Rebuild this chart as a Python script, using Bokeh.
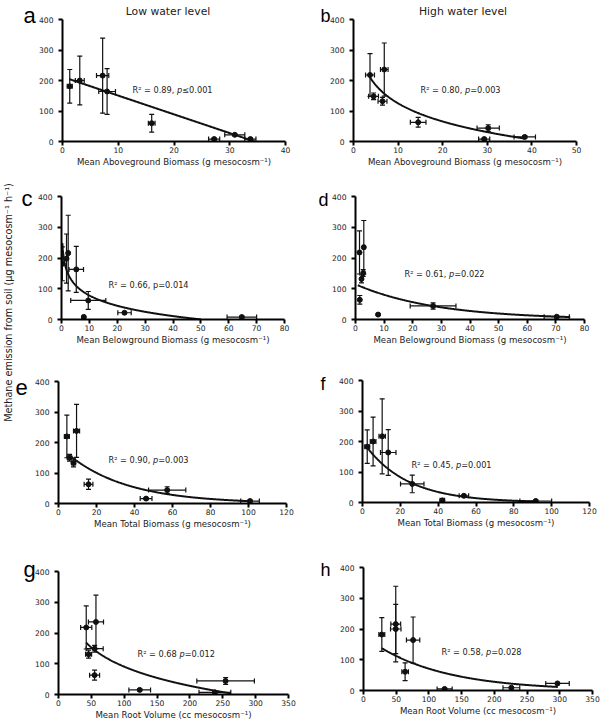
import numpy as np
from bokeh.plotting import figure
from bokeh.models import (Range1d, FixedTicker, Whisker, TeeHead, ColumnDataSource, Label,
                          GridBox, Plot)
from bokeh.layouts import row, column
from bokeh.embed import file_html
from bokeh.resources import INLINE

FONT = "DejaVu Sans"
LETTER_FONT = "Liberation Sans"
HAS_FRAME_ALIGN = "frame_align" in Plot.properties()

# ------------------------------------------------------------------ data
y_ticks = [0, 100, 200, 300, 400]
y_label = "Methane emission from soil (µg mesocosm⁻¹ h⁻¹)"
col_titles = ["Low water level", "High water level"]

# a: low water, aboveground biomass
a_x = [1.3, 3.1, 7.2, 8.0, 16.0, 27.2, 30.9, 33.7]
a_xerr = [0.45, 0.8, 1.1, 1.5, 0.6, 1.0, 1.8, 1.0]
a_y = [181, 200, 216, 164, 60, 8, 22, 8]
a_yerr = [55, 80, 123, 75, 29, 3, 3, 3]
a_xticks = [0, 10, 20, 30, 40]

# b: high water, aboveground biomass
b_x = [3.7, 4.5, 6.9, 6.5, 14.5, 30.2, 29.3, 38.4]
b_xerr = [1.0, 1.1, 0.85, 1.0, 1.75, 2.5, 1.25, 2.4]
b_y = [218, 148, 236, 132, 63, 44, 8, 15]
b_yerr = [70, 11, 87, 13, 16, 11, 3, 4]
b_xticks = [0, 10, 20, 30, 40, 50]

# c: low water, belowground biomass
c_x = [0.3, 1.8, 2.4, 5.3, 9.6, 64.7, 22.6, 8.0]
c_xerr = [0.2, 0.3, 0.3, 2.6, 6.3, 5.3, 2.4, 0.3]
c_y = [181, 198, 216, 163, 62, 8, 22, 8]
c_yerr = [55, 80, 123, 75, 29, 3, 3, 3]
c_xticks = [0, 10, 20, 30, 40, 50, 60, 70, 80]

# d: high water, belowground biomass
d_x = [1.4, 2.7, 2.9, 2.1, 1.5, 27.1, 70.3, 7.9]
d_xerr = [0.2, 0.3, 0.3, 0.3, 0.2, 8.0, 4.4, 0.3]
d_y = [218, 151, 235, 132, 64, 44, 9, 16]
d_yerr = [70, 11, 87, 13, 14, 10, 3, 3]
d_xticks = [0, 10, 20, 30, 40, 50, 60, 70, 80]

# e: total biomass
e_x = [4.4, 5.8, 9.5, 7.9, 15.8, 57.2, 100.8, 46.1]
e_xerr = [1.3, 1.2, 1.6, 1.1, 2.3, 9.8, 4.9, 3.1]
e_y = [220, 150, 238, 133, 63, 44, 8, 16]
e_yerr = [70, 11, 87, 13, 17, 11, 3, 3]
e_xticks = [0, 20, 40, 60, 80, 100, 120]

# f: total biomass
f_x = [2.5, 5.6, 10.4, 13.6, 26.3, 91.6, 53.6, 42.2]
f_xerr = [1.3, 1.5, 1.7, 4.1, 6.2, 8.4, 2.5, 1.2]
f_y = [183, 200, 217, 164, 61, 5, 22, 7]
f_yerr = [55, 80, 123, 75, 29, 3, 3, 3]
f_xticks = [0, 20, 40, 60, 80, 100, 120]

# g: root volume
g_x = [42.2, 55.0, 57.0, 45.8, 54.9, 254.3, 238.0, 123.6]
g_xerr = [8.5, 13.0, 11.5, 4.6, 7.6, 43.8, 24.2, 16.5]
g_y = [218, 149, 236, 131, 63, 44, 7, 15]
g_yerr = [70, 11, 87, 13, 16, 11, 3, 3]
g_xticks = [0, 50, 100, 150, 200, 250, 300, 350]

# h: root volume
h_x = [28.0, 49.3, 49.3, 75.8, 63.6, 226.0, 296.5, 124.0]
h_xerr = [4.5, 8.0, 7.5, 10.2, 5.0, 12.8, 18.0, 11.5]
h_y = [182, 200, 216, 164, 61, 9, 23, 5]
h_yerr = [55, 80, 123, 75, 29, 3, 3, 3]
h_xticks = [0, 50, 100, 150, 200, 250, 300, 350]

# fitted regressions: (kind, p0, p1, x_start, x_end)
a_fit = ("lin", 212.0, -6.15, 1.2, 34.5)
b_fit = ("log", 323.0, 85.9, 3.7, 38.4)
c_fit = ("log", 190.0, 48.5, 0.3, 50.0)
d_fit = ("exp", 114.8, 0.0355, 0.8, 75.0)
e_fit = ("exp", 190.0, 0.0318, 6.2, 100.8)
f_fit = ("exp", 201.0, 0.0441, 2.5, 91.6)
g_fit = ("log", 506.0, 90.2, 42.0, 262.0)
h_fit = ("exp", 178.0, 0.0092, 28.0, 297.0)

# statistics text: (before p, p, after p, italic p)
a_stat = ("R² = 0.89, ", "p", "≤0.001", True)
b_stat = ("R² = 0.80, ", "p", "=0.003", True)
c_stat = ("R² = 0.66, ", "p", "=0.014", False)
d_stat = ("R² = 0.61, ", "p", "=0.022", True)
e_stat = ("R² = 0.90, ", "p", "=0.003", True)
f_stat = ("R² = 0.45, ", "p", "=0.001", True)
g_stat = ("R² = 0.68 ", "p", "=0.012", True)
h_stat = ("R² = 0.58, ", "p", "=0.028", True)

x_labels = {
    "above": "Mean Aboveground Biomass (g mesocosm⁻¹)",
    "below": "Mean Belowground Biomass (g mesocosm⁻¹)",
    "total": "Mean Total Biomass (g mesocosm⁻¹)",
    "root": "Mean Root Volume (cc mesocosm⁻¹)",
}

# ------------------------------------------------------------------ helpers
CW = {"R": 0.695, "²": 0.401, " ": 0.318, "=": 0.838, ".": 0.318, ",": 0.318,
      "p": 0.635, "≤": 0.838}
for ch in "0123456789":
    CW[ch] = 0.636


def text_width(s, size):
    return sum(CW.get(ch, 0.6) for ch in s) * size


def fit_curve(fit):
    kind, p0, p1, x0, x1 = fit
    xs = np.linspace(x0, x1, 300)
    if kind == "lin":
        ys = p0 + p1 * xs
    elif kind == "log":
        ys = p0 - p1 * np.log(xs)
    else:
        ys = p0 * np.exp(-p1 * xs)
    return xs, ys


INK = "#111111"
STAT_SIZE = 8.2
W_TOTAL, H_TOTAL = 600, 722


def no_align(p):
    if HAS_FRAME_ALIGN:
        p.frame_align = False


def make_panel(x, xerr, y, yerr, xticks, xlabel, fit, width, height, borders):
    bl, br, bt, bb = borders
    p = figure(width=width, height=height, output_backend="svg", toolbar_location=None,
               x_range=Range1d(0, xticks[-1]), y_range=Range1d(0, 400),
               min_border_left=bl, min_border_right=br, min_border_top=bt,
               min_border_bottom=bb)
    no_align(p)
    p.outline_line_color = None
    p.grid.visible = False
    p.background_fill_color = "white"
    p.border_fill_color = "white"
    p.xaxis.ticker = FixedTicker(ticks=xticks)
    p.yaxis.ticker = FixedTicker(ticks=y_ticks)
    for ax in (p.xaxis[0], p.yaxis[0]):
        ax.axis_line_width = 2
        ax.axis_line_color = "black"
        ax.major_tick_line_width = 2
        ax.major_tick_line_color = "black"
        ax.major_tick_out = 4
        ax.major_tick_in = 0
        ax.minor_tick_line_color = None
        ax.major_label_text_font = FONT
        ax.major_label_text_font_size = "7.6px"
        ax.major_label_text_color = "#222222"
    p.xaxis.major_label_standoff = 1
    p.yaxis.major_label_standoff = 5
    p.xaxis.axis_label = xlabel
    p.xaxis.axis_label_text_font = FONT
    p.xaxis.axis_label_text_font_size = "8.6px"
    p.xaxis.axis_label_text_font_style = "normal"
    p.xaxis.axis_label_text_color = "#222222"
    p.xaxis.axis_label_standoff = 1

    xa = np.array(x, dtype=float)
    ya = np.array(y, dtype=float)
    xe = np.array(xerr, dtype=float)
    ye = np.array(yerr, dtype=float)
    src = ColumnDataSource(dict(x=xa, y=ya, xl=xa - xe, xu=xa + xe,
                                yl=ya - ye, yu=ya + ye))

    def head():
        return TeeHead(size=5, line_width=1.2, line_color=INK)

    p.add_layout(Whisker(source=src, base="x", lower="yl", upper="yu", dimension="height",
                         line_width=1.2, line_color=INK,
                         lower_head=head(), upper_head=head()))
    p.add_layout(Whisker(source=src, base="y", lower="xl", upper="xu", dimension="width",
                         line_width=1.2, line_color=INK,
                         lower_head=head(), upper_head=head()))
    p.scatter("x", "y", source=src, marker="circle", size=5, color=INK)

    xs, ys = fit_curve(fit)
    p.line(xs, ys, line_width=2, line_color=INK)
    return p


LW = RW = 300
H1, H2, H3, H4 = 170, 180, 185, 187

pa = make_panel(a_x, a_xerr, a_y, a_yerr, a_xticks, x_labels["above"], a_fit, LW, H1, (62, 15, 19, 29))
pb = make_panel(b_x, b_xerr, b_y, b_yerr, b_xticks, x_labels["above"], b_fit, RW, H1, (53, 24, 19, 29))
pc = make_panel(c_x, c_xerr, c_y, c_yerr, c_xticks, x_labels["below"], c_fit, LW, H2, (61, 16, 26, 31))
pd = make_panel(d_x, d_xerr, d_y, d_yerr, d_xticks, x_labels["below"], d_fit, RW, H2, (55, 16, 26, 31))
pe = make_panel(e_x, e_xerr, e_y, e_yerr, e_xticks, x_labels["total"], e_fit, LW, H3, (58, 14, 31, 32))
pf = make_panel(f_x, f_xerr, f_y, f_yerr, f_xticks, x_labels["total"], f_fit, RW, H3, (62, 11, 30, 33))
pg = make_panel(g_x, g_xerr, g_y, g_yerr, g_xticks, x_labels["root"], g_fit, LW, H4, (58, 12, 36, 28))
ph = make_panel(h_x, h_xerr, h_y, h_yerr, h_xticks, x_labels["root"], h_fit, RW, H4, (63, 8, 32, 32))

# transparent overlay carrying panel letters, column titles, stats text and y-axis title
ov = figure(width=W_TOTAL, height=H_TOTAL, output_backend="svg", toolbar_location=None,
            x_axis_location=None, y_axis_location=None,
            x_range=Range1d(0, W_TOTAL), y_range=Range1d(0, H_TOTAL),
            min_border_left=0, min_border_right=0, min_border_top=0, min_border_bottom=0)
no_align(ov)
ov.outline_line_color = None
ov.grid.visible = False
ov.background_fill_color = None
ov.border_fill_color = None


def put(text, px, py, size, font=FONT, align="left", baseline="alphabetic",
        style="normal", angle=0.0, color="#222222"):
    ov.add_layout(Label(x=px, y=H_TOTAL - py, x_units="screen", y_units="screen", text=text,
                        text_font=font, text_font_size=f"{size}px", text_font_style=style,
                        text_align=align, text_baseline=baseline, angle=angle,
                        text_color=color))


# panel letters (page pixel position of left edge, baseline)
letters = [("a", 23, 15, 22), ("b", 320, 15, 18), ("c", 21, 198, 22), ("d", 318, 199, 18),
           ("e", 15, 387, 22), ("f", 320, 383, 18), ("g", 23, 569, 22), ("h", 320, 569, 18)]
for t, lx, ly, sz in letters:
    put(t, lx, ly, sz, font=LETTER_FONT, color="black")

put(col_titles[0], 167.5, 11, 10.8, align="center")
put(col_titles[1], 462.5, 11, 10.8, align="center")

stats = [(a_stat, 132, 89), (b_stat, 420, 89), (c_stat, 108, 284), (d_stat, 404, 273),
         (e_stat, 108, 459), (f_stat, 411, 464), (g_stat, 137, 653), (h_stat, 441, 651)]
for (pre, pch, post, italic), sx, sy in stats:
    w1 = text_width(pre, STAT_SIZE)
    w2 = text_width(pch, STAT_SIZE)
    put(pre, sx, sy, STAT_SIZE, baseline="middle")
    put(pch, sx + w1, sy, STAT_SIZE, baseline="middle", style="italic" if italic else "normal")
    put(post, sx + w1 + w2, sy, STAT_SIZE, baseline="middle")

put(y_label, 8, 302, 9.7, align="center", baseline="middle", angle=np.pi / 2)

panels = column(row(pa, pb), row(pc, pd), row(pe, pf), row(pg, ph))
layout = GridBox(children=[(panels, 0, 0), (ov, 0, 0)])

open("out.html", "w").write(file_html(layout, INLINE))
